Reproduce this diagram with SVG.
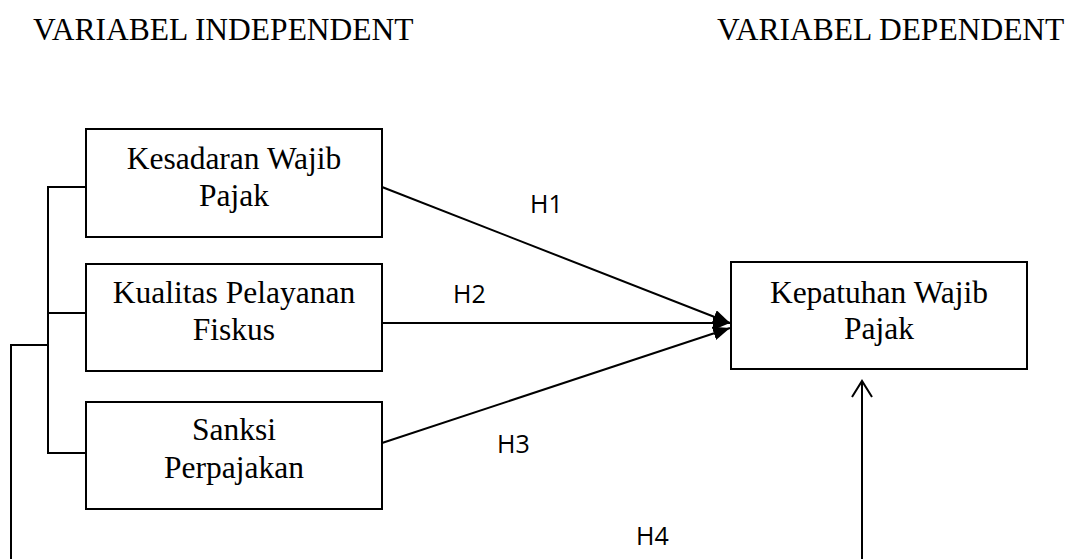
<svg xmlns="http://www.w3.org/2000/svg" width="1075" height="559" viewBox="0 0 1075 559">
<defs>
<style>
.box{fill:#fff;stroke:#000;stroke-width:2}
.t{font-family:"Liberation Serif","Times New Roman",serif;font-size:31.5px;fill:#000;text-anchor:middle}
.h{font-family:"Liberation Serif","Times New Roman",serif;font-size:31.5px;fill:#000}
.lbl{font-family:"Open Sans","Liberation Sans",sans-serif;font-size:25px;fill:#000}
.ln{fill:none;stroke:#000;stroke-width:2}
</style>
<marker id="ah" viewBox="0 0 17 14" refX="17" refY="7" markerWidth="17" markerHeight="14" markerUnits="userSpaceOnUse" orient="auto">
<path d="M0,0 L17,7 L0,14 Z" fill="#000"/>
</marker>
</defs>
<rect width="1075" height="559" fill="#fff"/>
<text class="h" x="33" y="40">VARIABEL INDEPENDENT</text>
<text class="h" x="717" y="40">VARIABEL DEPENDENT</text>
<g id="connectors">
<polyline class="ln" points="86,187 48,187 48,453 86,453"/>
<line class="ln" x1="48" y1="313" x2="86" y2="313"/>
<polyline class="ln" points="48,345 11,345 11,559"/>
<line class="ln" x1="382" y1="187" x2="730" y2="323" marker-end="url(#ah)"/>
<line class="ln" x1="382" y1="323" x2="730" y2="323" marker-end="url(#ah)"/>
<line class="ln" x1="382" y1="443" x2="730" y2="328" marker-end="url(#ah)"/>
<line class="ln" x1="862" y1="559" x2="862" y2="381"/>
<polyline class="ln" points="852,397 862,381 872,397"/>
<text class="lbl" x="530" y="213">H1</text>
<text class="lbl" x="453" y="303">H2</text>
<text class="lbl" x="497" y="453">H3</text>
<text class="lbl" x="636" y="545">H4</text>
</g>
<g id="kesadaran">
<rect class="box" x="86" y="129" width="296" height="108"/>
<text class="t" x="234" y="169">Kesadaran Wajib</text>
<text class="t" x="234" y="206">Pajak</text>
</g>
<g id="kualitas">
<rect class="box" x="86" y="264" width="296" height="107"/>
<text class="t" x="234" y="303">Kualitas Pelayanan</text>
<text class="t" x="234" y="340">Fiskus</text>
</g>
<g id="sanksi">
<rect class="box" x="86" y="402" width="296" height="107"/>
<text class="t" x="234" y="440">Sanksi</text>
<text class="t" x="234" y="478">Perpajakan</text>
</g>
<g id="kepatuhan">
<rect class="box" x="731" y="262" width="296" height="107"/>
<text class="t" x="879" y="303">Kepatuhan Wajib</text>
<text class="t" x="879" y="339">Pajak</text>
</g>
</svg>
